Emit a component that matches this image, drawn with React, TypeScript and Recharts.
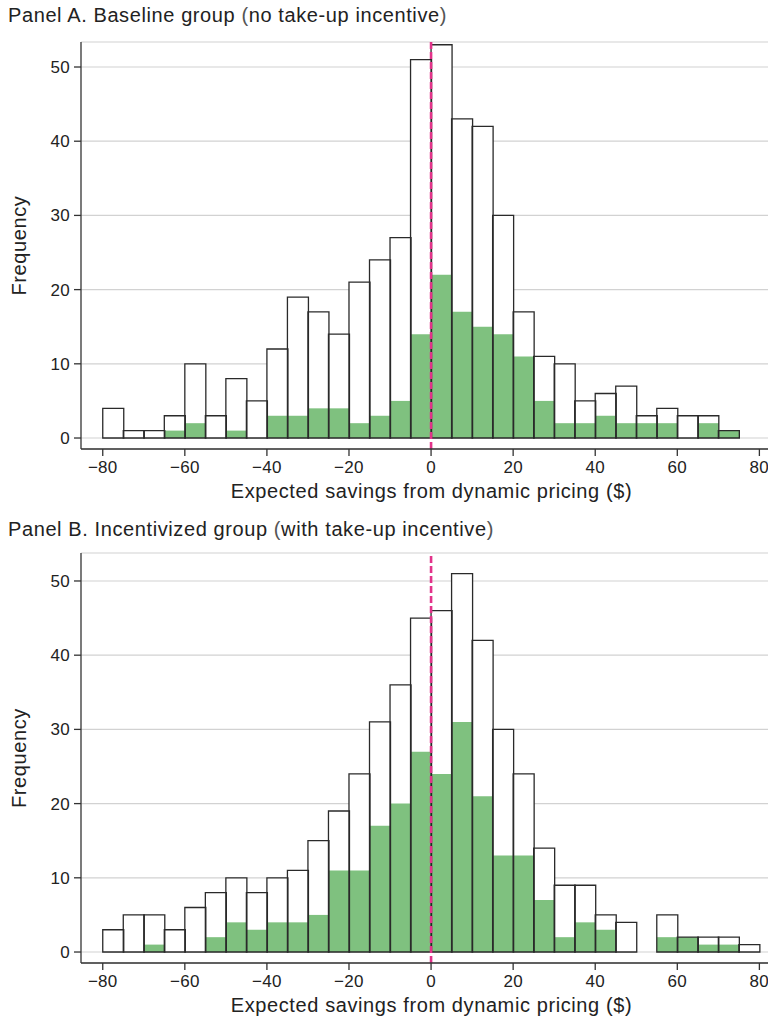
import React from 'react';
import { ComposedChart, Bar, XAxis, YAxis, CartesianGrid, ReferenceLine } from 'recharts';

// Histogram bins: start of each $5 bin
const binStarts = [
  -80, -75, -70, -65, -60, -55, -50, -45, -40, -35, -30, -25, -20, -15, -10, -5,
  0, 5, 10, 15, 20, 25, 30, 35, 40, 45, 50, 55, 60, 65, 70, 75,
];

// Panel A: Baseline group
const baselineTotal = [
  4, 1, 1, 3, 10, 3, 8, 5, 12, 19, 17, 14, 21, 24, 27, 51,
  53, 43, 42, 30, 17, 11, 10, 5, 6, 7, 3, 4, 3, 3, 1, 0,
];
const baselineEnrolled = [
  0, 0, 0, 1, 2, 0, 1, 0, 3, 3, 4, 4, 2, 3, 5, 14,
  22, 17, 15, 14, 11, 5, 2, 2, 3, 2, 2, 2, 0, 2, 1, 0,
];

// Panel B: Incentivized group
const incentTotal = [
  3, 5, 5, 3, 6, 8, 10, 8, 10, 11, 15, 19, 24, 31, 36, 45,
  46, 51, 42, 30, 24, 14, 9, 9, 5, 4, 0, 5, 2, 2, 2, 1,
];
const incentEnrolled = [
  0, 0, 1, 0, 0, 2, 4, 3, 4, 4, 5, 11, 11, 17, 20, 27,
  24, 31, 21, 13, 13, 7, 2, 4, 3, 0, 0, 2, 2, 1, 1, 0,
];

const xTicks = [-80, -60, -40, -20, 0, 20, 40, 60, 80];
const yTicks = [0, 10, 20, 30, 40, 50];

const BIN_WIDTH = 5;

const buildRows = (total: number[], enrolled: number[]) =>
  binStarts.map((s, i) => ({ x: s + BIN_WIDTH / 2, total: total[i], enrolled: enrolled[i] }));

const FONT = '"Liberation Sans", Arial, Helvetica, sans-serif';
const TEXT = '#222';
const AXIS = '#333';
const GREEN = '#7fc17f';
const PINK = '#e2338a';
const X_DOMAIN: [number, number] = [-85.3, 82.1];

const fmtX = (v: number) => (v < 0 ? `\u2212${Math.abs(v)}` : `${v}`);

type PanelProps = {
  top: number;
  marginTop: number;
  yTop: number;
  title: string;
  rows: { x: number; total: number; enrolled: number }[];
};

const Panel = ({ top, marginTop, yTop, title, rows }: PanelProps) => {
  const parts = title.split(/([()])/);
  return (
    <div style={{ position: 'absolute', left: 0, top, width: 768, height: 510 }}>
      <div
        style={{
          position: 'absolute',
          left: 8,
          top: 5,
          fontSize: 20,
          lineHeight: '20px',
          letterSpacing: '0.6px',
          color: TEXT,
          fontFamily: FONT,
          whiteSpace: 'nowrap',
          zIndex: 2,
        }}
      >
        {parts.map((p, i) =>
          p === '(' || p === ')' ? (
            <span key={i} style={{ color: '#555' }}>{p}</span>
          ) : (
            <span key={i}>{p}</span>
          )
        )}
      </div>
      <ComposedChart
        width={768}
        height={510}
        data={rows}
        margin={{ top: marginTop, right: 0, bottom: 0, left: 0 }}
        barCategoryGap={0}
        barGap={0}
        style={{ fontFamily: FONT }}
      >
        <CartesianGrid vertical={false} stroke="#d2d2d2" strokeWidth={1.2} />
        <XAxis
          dataKey="x"
          type="number"
          domain={X_DOMAIN}
          allowDataOverflow
          ticks={xTicks}
          tickFormatter={fmtX}
          interval={0}
          height={61}
          stroke={AXIS}
          strokeWidth={1.3}
          tickSize={7}
          tickMargin={5}
          tick={{ fontSize: 17, fill: TEXT }}
          label={{
            value: 'Expected savings from dynamic pricing ($)',
            position: 'insideBottom',
            offset: 12,
            dx: 7,
            fontSize: 20,
            fill: TEXT,
          }}
        />
        <XAxis xAxisId="g" dataKey="x" type="number" domain={X_DOMAIN} allowDataOverflow hide />
        <XAxis xAxisId="o" dataKey="x" type="number" domain={X_DOMAIN} allowDataOverflow hide />
        <YAxis
          type="number"
          domain={[-1.48, yTop]}
          allowDataOverflow
          ticks={yTicks}
          interval={0}
          width={81}
          stroke={AXIS}
          strokeWidth={1.3}
          tickSize={7}
          tickMargin={4}
          tick={{ fontSize: 17, fill: TEXT }}
          label={{
            value: 'Frequency',
            angle: -90,
            position: 'center',
            dx: -21.5,
            fontSize: 20,
            fill: TEXT,
          }}
        />
        <Bar dataKey="total" fill="#ffffff" stroke="none" isAnimationActive={false} />
        <Bar dataKey="enrolled" xAxisId="g" fill={GREEN} stroke="none" isAnimationActive={false} />
        <Bar
          dataKey="total"
          xAxisId="o"
          fill="none"
          stroke="#2a2a2a"
          strokeWidth={1.3}
          isAnimationActive={false}
        />
        <ReferenceLine x={0} stroke={PINK} strokeWidth={2.6} strokeDasharray="7 3" />
      </ComposedChart>
    </div>
  );
};

export default function App() {
  return (
    <div
      style={{
        position: 'absolute',
        left: 0,
        top: 0,
        width: 768,
        height: 1021,
        background: '#fff',
        fontFamily: FONT,
      }}
    >
      <style>{`.recharts-label { letter-spacing: 0.6px; } .recharts-cartesian-axis-tick-value { letter-spacing: 0.3px; }`}</style>
      <Panel
        top={0}
        marginTop={42}
        yTop={53.37}
        title="Panel A. Baseline group (no take-up incentive)"
        rows={buildRows(baselineTotal, baselineEnrolled)}
      />
      <Panel
        top={514}
        marginTop={39}
        yTop={53.77}
        title="Panel B. Incentivized group (with take-up incentive)"
        rows={buildRows(incentTotal, incentEnrolled)}
      />
    </div>
  );
}
